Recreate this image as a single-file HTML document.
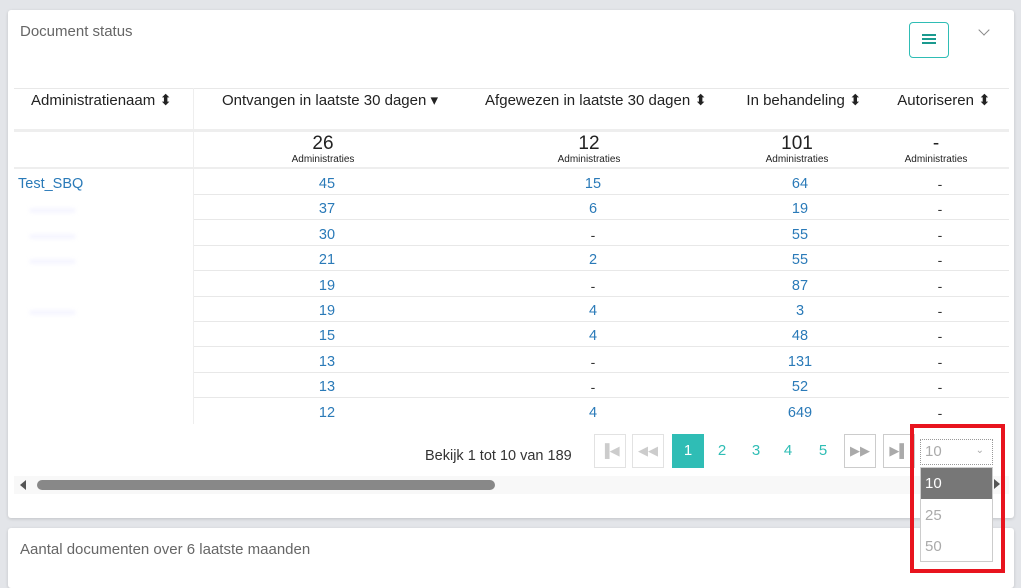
<!DOCTYPE html>
<html><head><meta charset="utf-8"><style>
body{margin:0;width:1021px;height:578px;background:#e3e5e9;font-family:"Liberation Sans",sans-serif;position:relative;overflow:hidden}
.a{position:absolute}
.card{position:absolute;background:#fff;border-radius:3px;box-shadow:0 1px 3px rgba(0,0,0,.15)}
.c{position:absolute;text-align:center;transform:translateX(-50%);white-space:nowrap}
.h{font-size:15px;color:#222;top:91px}
.n{font-size:14.5px;color:#2a7ab8}
.d{font-size:14px;color:#333}
.hl{position:absolute;left:14px;width:995px;height:1px;background:#e8e8e8}
.pb{position:absolute;top:434px;width:32px;height:34px;border:1px solid #e2e2e2;box-sizing:border-box;color:#ccc;font-size:13px;text-align:center;line-height:32px}
.pn{position:absolute;top:434px;width:32px;height:34px;text-align:center;line-height:34px;color:#2fbdb5;font-size:15px}
</style></head><body>
<div class="card" style="left:8px;top:10px;width:1006px;height:508px"></div>
<div class="card" style="left:8px;top:528px;width:1006px;height:60px"></div>
<div class="a" style="left:20px;top:23px;font-size:15px;color:#666">Document status</div>
<div class="a" style="left:20px;top:541px;font-size:15px;color:#666">Aantal documenten over 6 laatste maanden</div>
<div class="a" style="left:909px;top:22px;width:40px;height:36px;border:1px solid #2fbdb5;border-radius:4px;box-sizing:border-box"></div>
<div class="a" style="left:922px;top:34px;width:14px;height:2px;background:#1a9a8f;box-shadow:0 4px 0 #1a9a8f,0 8px 0 #1a9a8f"></div>
<div class="a" style="left:980px;top:26px;width:7px;height:7px;border-right:1.5px solid #888;border-bottom:1.5px solid #888;transform:rotate(45deg)"></div>

<div class="hl" style="top:88px"></div>
<div class="hl" style="top:129px;height:3px;background:#eee"></div>
<div class="hl" style="top:167px;height:2px;background:#eee"></div>
<div class="a" style="left:193px;top:88px;width:1px;height:336px;background:#eee"></div>

<div class="a h" style="left:31px">Administratienaam ⬍</div>
<div class="c h" style="left:330px">Ontvangen in laatste 30 dagen ▾</div>
<div class="c h" style="left:596px">Afgewezen in laatste 30 dagen ⬍</div>
<div class="c h" style="left:804px">In behandeling ⬍</div>
<div class="c h" style="left:944px">Autoriseren ⬍</div>

<div class="c" style="left:323px;top:133px;font-size:19px;color:#222">26</div>
<div class="c" style="left:323px;top:154px;font-size:10px;color:#222">Administraties</div>
<div class="c" style="left:589px;top:133px;font-size:19px;color:#222">12</div>
<div class="c" style="left:589px;top:154px;font-size:10px;color:#222">Administraties</div>
<div class="c" style="left:797px;top:133px;font-size:19px;color:#222">101</div>
<div class="c" style="left:797px;top:154px;font-size:10px;color:#222">Administraties</div>
<div class="c" style="left:936px;top:133px;font-size:19px;color:#222">-</div>
<div class="c" style="left:936px;top:154px;font-size:10px;color:#222">Administraties</div>

<div class="a n" style="left:18px;top:176px">Test_SBQ</div>
<div id="rows"></div>
<script>
var d=[[45,15,64],[37,6,19],[30,'-',55],[21,2,55],[19,'-',87],[19,4,3],[15,4,48],[13,'-',131],[13,'-',52],[12,4,649]];
var h='';d.forEach(function(r,i){var y=176+i*25.4;
if(i<9)h+='<div class="hl" style="top:'+(y+18)+'px;left:194px;width:815px"></div>';
h+='<div class="c n" style="left:327px;top:'+y+'px">'+r[0]+'</div>';
h+='<div class="c '+(r[1]=='-'?'d':'n')+'" style="left:593px;top:'+y+'px">'+r[1]+'</div>';
h+='<div class="c n" style="left:800px;top:'+y+'px">'+r[2]+'</div>';
h+='<div class="c d" style="left:940px;top:'+y+'px">-</div>';
if(i==1||i==2||i==3||i==5)h+='<div class="a" style="left:30px;top:'+(y+8)+'px;width:45px;height:3px;background:#eef;filter:blur(2px)"></div>';});
document.getElementById('rows').innerHTML=h;
</script>

<div class="a" style="left:425px;top:448px;font-size:14.5px;color:#333">Bekijk 1 tot 10 van 189</div>
<div class="pb" style="left:594px">▐◀</div>
<div class="pb" style="left:632px">◀◀</div>
<div class="pn" style="left:672px;background:#2fbdb5;color:#fff">1</div>
<div class="pn" style="left:706px">2</div>
<div class="pn" style="left:740px">3</div>
<div class="pn" style="left:772px">4</div>
<div class="pn" style="left:807px">5</div>
<div class="pb" style="left:844px;color:#aaa;border-color:#ccc">▶▶</div>
<div class="pb" style="left:883px;color:#aaa;border-color:#ccc">▶▌</div>

<div class="a" style="left:14px;top:476px;width:995px;height:18px;background:#f8f8f8"></div>
<div class="a" style="left:37px;top:480px;width:458px;height:10px;background:#888;border-radius:5px"></div>
<div class="a" style="left:20px;top:480px;width:0;height:0;border-top:5px solid transparent;border-bottom:5px solid transparent;border-right:6px solid #555"></div>

<div class="a" style="left:920px;top:439px;width:73px;height:26px;border:1px dotted #999;box-sizing:border-box;color:#aaa;font-size:15px;padding:3px 0 0 4px">10<span style="position:absolute;right:8px;top:5px;font-size:10px">⌄</span></div>
<div class="a" style="left:920px;top:467px;width:73px;height:95px;border:1px solid #ccc;box-sizing:border-box;background:#fff"></div>
<div class="a" style="left:921px;top:468px;width:71px;height:31px;background:#777;color:#fff;font-size:15px;line-height:31px;padding-left:4px;box-sizing:border-box">10</div>
<div class="a" style="left:925px;top:507px;font-size:15px;color:#aaa">25</div>
<div class="a" style="left:925px;top:538px;font-size:15px;color:#aaa">50</div>
<div class="a" style="left:994px;top:479px;width:0;height:0;border-top:5px solid transparent;border-bottom:5px solid transparent;border-left:6px solid #555"></div>
<div class="a" style="left:910px;top:424px;width:95px;height:149px;border:4px solid #e8141e;box-sizing:border-box"></div>
</body></html>
